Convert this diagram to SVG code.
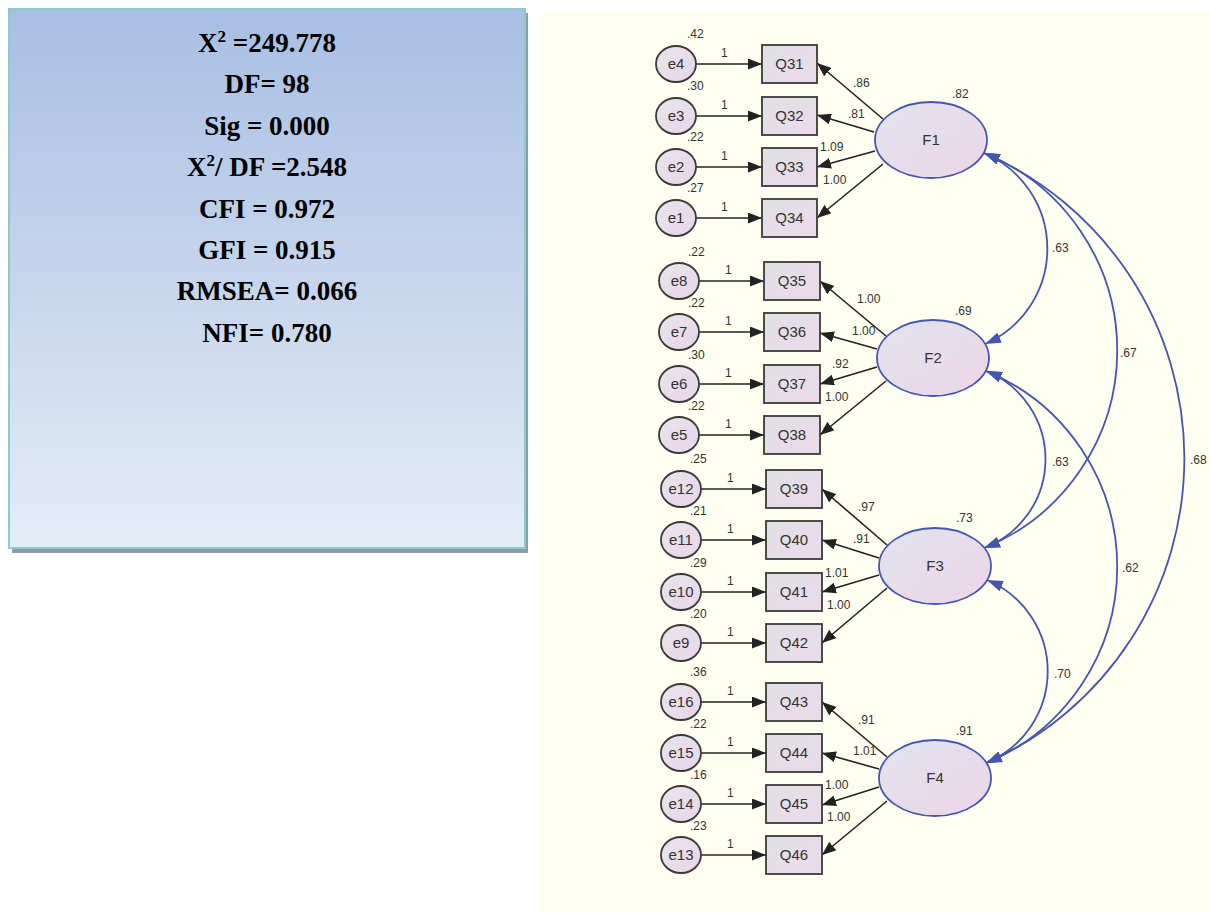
<svg xmlns="http://www.w3.org/2000/svg" width="1210" height="913" viewBox="0 0 1210 913">
<style>
.stat{font-family:"Liberation Serif","Times New Roman",serif;font-weight:bold;font-size:27px;fill:#000;text-anchor:middle}
.num{font-family:"Liberation Sans",Arial,sans-serif;font-size:12px;fill:#333}
.lbl{font-family:"Liberation Sans",Arial,sans-serif;font-size:15px;fill:#333;text-anchor:middle}
.err{fill:url(#gE);stroke:#3a3a3a;stroke-width:1.8}
.obs{fill:url(#gQ);stroke:#3a3a3a;stroke-width:1.8}
.lat{fill:url(#gF);stroke:#4456b0;stroke-width:1.8}
.blk{stroke:#222;stroke-width:1.6;fill:none;marker-end:url(#ab)}
.cov{stroke:#4456b0;stroke-width:1.8;fill:none;marker-start:url(#au);marker-end:url(#au)}
</style>
<defs>
<linearGradient id="gBox" x1="0" y1="0" x2="0" y2="1"><stop offset="0" stop-color="#a8bee2"/><stop offset="1" stop-color="#e5edf7"/></linearGradient>
<linearGradient id="gE" x1="0" y1="0" x2="1" y2="1"><stop offset="0" stop-color="#e6e6ea"/><stop offset="1" stop-color="#ead4e8"/></linearGradient>
<linearGradient id="gQ" x1="0" y1="0" x2="1" y2="1"><stop offset="0" stop-color="#dfe1e4"/><stop offset="1" stop-color="#ecdaea"/></linearGradient>
<linearGradient id="gF" x1="0" y1="0" x2="1" y2="1"><stop offset="0" stop-color="#e1e4ec"/><stop offset="1" stop-color="#ecd6e8"/></linearGradient>
<marker id="ab" markerUnits="userSpaceOnUse" markerWidth="14" markerHeight="11" refX="14" refY="5.5" orient="auto"><path d="M0,0 L14,5.5 L0,11 z" fill="#222"/></marker>
<marker id="au" markerUnits="userSpaceOnUse" markerWidth="16" markerHeight="11" refX="16" refY="5.5" orient="auto-start-reverse"><path d="M0,0 L16,5.5 L0,11 z" fill="#4456b0"/></marker>
</defs>
<rect x="0" y="0" width="1210" height="913" fill="#ffffff"/>
<rect x="539" y="12" width="671" height="900" fill="#fefef1"/>
<g id="stats">
<rect x="12" y="13" width="516" height="540" fill="#8a9ea6"/>
<rect x="9" y="9" width="516" height="539" fill="url(#gBox)" stroke="#8ccad2" stroke-width="2"/>
<text class="stat" x="267" y="52">X<tspan font-size="17" dy="-10">2</tspan><tspan dy="10"> =249.778</tspan></text>
<text class="stat" x="267" y="93.4">DF= 98</text>
<text class="stat" x="267" y="134.8">Sig = 0.000</text>
<text class="stat" x="267" y="176.2">X<tspan font-size="17" dy="-10">2</tspan><tspan dy="10">/ DF =2.548</tspan></text>
<text class="stat" x="267" y="217.6">CFI = 0.972</text>
<text class="stat" x="267" y="259">GFI = 0.915</text>
<text class="stat" x="267" y="300.4">RMSEA= 0.066</text>
<text class="stat" x="267" y="341.8">NFI= 0.780</text>
</g>
<g id="connectors">
<line class="blk" x1="696" y1="64" x2="762" y2="64"/><text class="num" x="721" y="57">1</text>
<line class="blk" x1="696" y1="116" x2="762" y2="116"/><text class="num" x="721" y="109">1</text>
<line class="blk" x1="696" y1="167" x2="762" y2="167"/><text class="num" x="721" y="160">1</text>
<line class="blk" x1="696" y1="218" x2="762" y2="218"/><text class="num" x="721" y="211">1</text>
<line class="blk" x1="699" y1="281" x2="764" y2="281"/><text class="num" x="725" y="274">1</text>
<line class="blk" x1="699" y1="332" x2="764" y2="332"/><text class="num" x="725" y="325">1</text>
<line class="blk" x1="699" y1="384" x2="764" y2="384"/><text class="num" x="725" y="377">1</text>
<line class="blk" x1="699" y1="435" x2="764" y2="435"/><text class="num" x="725" y="428">1</text>
<line class="blk" x1="701" y1="489" x2="766" y2="489"/><text class="num" x="727" y="482">1</text>
<line class="blk" x1="701" y1="540" x2="766" y2="540"/><text class="num" x="727" y="533">1</text>
<line class="blk" x1="701" y1="592" x2="766" y2="592"/><text class="num" x="727" y="585">1</text>
<line class="blk" x1="701" y1="643" x2="766" y2="643"/><text class="num" x="727" y="636">1</text>
<line class="blk" x1="701" y1="702" x2="766" y2="702"/><text class="num" x="727" y="695">1</text>
<line class="blk" x1="701" y1="753" x2="766" y2="753"/><text class="num" x="727" y="746">1</text>
<line class="blk" x1="701" y1="804" x2="766" y2="804"/><text class="num" x="727" y="797">1</text>
<line class="blk" x1="701" y1="855" x2="766" y2="855"/><text class="num" x="727" y="848">1</text>
<line class="blk" x1="883" y1="119" x2="817" y2="63"/><text class="num" x="853" y="87">.86</text>
<line class="blk" x1="874" y1="132" x2="817" y2="115"/><text class="num" x="848" y="118">.81</text>
<line class="blk" x1="875" y1="151" x2="817" y2="167"/><text class="num" x="820" y="151">1.09</text>
<line class="blk" x1="883" y1="164" x2="817" y2="218"/><text class="num" x="823" y="184">1.00</text>
<line class="blk" x1="886" y1="336" x2="820" y2="281"/><text class="num" x="857" y="303">1.00</text>
<line class="blk" x1="877" y1="349" x2="820" y2="333"/><text class="num" x="852" y="335">1.00</text>
<line class="blk" x1="877" y1="367" x2="820" y2="384"/><text class="num" x="832" y="368">.92</text>
<line class="blk" x1="886" y1="381" x2="820" y2="435"/><text class="num" x="825" y="401">1.00</text>
<line class="blk" x1="887" y1="545" x2="822" y2="489"/><text class="num" x="858" y="511">.97</text>
<line class="blk" x1="879" y1="558" x2="822" y2="540"/><text class="num" x="853" y="543">.91</text>
<line class="blk" x1="879" y1="575" x2="822" y2="592"/><text class="num" x="825" y="577">1.01</text>
<line class="blk" x1="887" y1="588" x2="822" y2="643"/><text class="num" x="827" y="609">1.00</text>
<line class="blk" x1="887" y1="757" x2="822" y2="702"/><text class="num" x="858" y="724">.91</text>
<line class="blk" x1="879" y1="769" x2="822" y2="753"/><text class="num" x="853" y="755">1.01</text>
<line class="blk" x1="879" y1="787" x2="822" y2="805"/><text class="num" x="825" y="789">1.00</text>
<line class="blk" x1="887" y1="801" x2="822" y2="855"/><text class="num" x="827" y="821">1.00</text>
<path class="cov" d="M984,153 A104,104 0 0 1 985,344"/><text class="num" x="1052" y="252">.63</text>
<path class="cov" d="M984,153 A213,213 0 0 1 984,548"/><text class="num" x="1120" y="357">.67</text>
<path class="cov" d="M984,153 A333,333 0 0 1 986,763"/><text class="num" x="1190" y="464">.68</text>
<path class="cov" d="M986,371 A95,95 0 0 1 984,548"/><text class="num" x="1052" y="466">.63</text>
<path class="cov" d="M986,371 A212,212 0 0 1 986,763"/><text class="num" x="1122" y="572">.62</text>
<path class="cov" d="M987,580 A99,99 0 0 1 986,763"/><text class="num" x="1054" y="678">.70</text>
</g>
<g id="F1"><ellipse class="lat" cx="931" cy="140" rx="56" ry="38"/><text class="lbl" x="931" y="145">F1</text><text class="num" x="952" y="98">.82</text></g>
<g id="F2"><ellipse class="lat" cx="933" cy="358" rx="56" ry="38"/><text class="lbl" x="933" y="363">F2</text><text class="num" x="955" y="315">.69</text></g>
<g id="F3"><ellipse class="lat" cx="935" cy="566" rx="56" ry="38"/><text class="lbl" x="935" y="571">F3</text><text class="num" x="956" y="522">.73</text></g>
<g id="F4"><ellipse class="lat" cx="935" cy="778" rx="56" ry="38"/><text class="lbl" x="935" y="783">F4</text><text class="num" x="956" y="735">.91</text></g>
<g id="Q31"><rect class="obs" x="762" y="45" width="55" height="38"/><text class="lbl" x="789.5" y="69">Q31</text></g>
<g id="Q32"><rect class="obs" x="762" y="97" width="55" height="38"/><text class="lbl" x="789.5" y="121">Q32</text></g>
<g id="Q33"><rect class="obs" x="762" y="148" width="55" height="38"/><text class="lbl" x="789.5" y="172">Q33</text></g>
<g id="Q34"><rect class="obs" x="762" y="199" width="55" height="38"/><text class="lbl" x="789.5" y="223">Q34</text></g>
<g id="Q35"><rect class="obs" x="764" y="262" width="56" height="38"/><text class="lbl" x="792" y="286">Q35</text></g>
<g id="Q36"><rect class="obs" x="764" y="313" width="56" height="38"/><text class="lbl" x="792" y="337">Q36</text></g>
<g id="Q37"><rect class="obs" x="764" y="365" width="56" height="38"/><text class="lbl" x="792" y="389">Q37</text></g>
<g id="Q38"><rect class="obs" x="764" y="416" width="56" height="38"/><text class="lbl" x="792" y="440">Q38</text></g>
<g id="Q39"><rect class="obs" x="766" y="470" width="56" height="38"/><text class="lbl" x="794" y="494">Q39</text></g>
<g id="Q40"><rect class="obs" x="766" y="521" width="56" height="38"/><text class="lbl" x="794" y="545">Q40</text></g>
<g id="Q41"><rect class="obs" x="766" y="573" width="56" height="38"/><text class="lbl" x="794" y="597">Q41</text></g>
<g id="Q42"><rect class="obs" x="766" y="624" width="56" height="38"/><text class="lbl" x="794" y="648">Q42</text></g>
<g id="Q43"><rect class="obs" x="766" y="683" width="56" height="38"/><text class="lbl" x="794" y="707">Q43</text></g>
<g id="Q44"><rect class="obs" x="766" y="734" width="56" height="38"/><text class="lbl" x="794" y="758">Q44</text></g>
<g id="Q45"><rect class="obs" x="766" y="785" width="56" height="38"/><text class="lbl" x="794" y="809">Q45</text></g>
<g id="Q46"><rect class="obs" x="766" y="836" width="56" height="38"/><text class="lbl" x="794" y="860">Q46</text></g>
<g id="e4"><ellipse class="err" cx="676" cy="64" rx="20" ry="18"/><text class="lbl" x="676" y="69">e4</text><text class="num" x="687" y="38">.42</text></g>
<g id="e3"><ellipse class="err" cx="676" cy="116" rx="20" ry="18"/><text class="lbl" x="676" y="121">e3</text><text class="num" x="687" y="90">.30</text></g>
<g id="e2"><ellipse class="err" cx="676" cy="167" rx="20" ry="18"/><text class="lbl" x="676" y="172">e2</text><text class="num" x="687" y="141">.22</text></g>
<g id="e1"><ellipse class="err" cx="676" cy="218" rx="20" ry="18"/><text class="lbl" x="676" y="223">e1</text><text class="num" x="687" y="192">.27</text></g>
<g id="e8"><ellipse class="err" cx="679" cy="281" rx="20" ry="18"/><text class="lbl" x="679" y="286">e8</text><text class="num" x="688" y="256">.22</text></g>
<g id="e7"><ellipse class="err" cx="679" cy="332" rx="20" ry="18"/><text class="lbl" x="679" y="337">e7</text><text class="num" x="688" y="307">.22</text></g>
<g id="e6"><ellipse class="err" cx="679" cy="384" rx="20" ry="18"/><text class="lbl" x="679" y="389">e6</text><text class="num" x="688" y="359">.30</text></g>
<g id="e5"><ellipse class="err" cx="679" cy="435" rx="20" ry="18"/><text class="lbl" x="679" y="440">e5</text><text class="num" x="688" y="410">.22</text></g>
<g id="e12"><ellipse class="err" cx="681" cy="489" rx="20" ry="18"/><text class="lbl" x="681" y="494">e12</text><text class="num" x="690" y="463">.25</text></g>
<g id="e11"><ellipse class="err" cx="681" cy="540" rx="20" ry="18"/><text class="lbl" x="681" y="545">e11</text><text class="num" x="690" y="515">.21</text></g>
<g id="e10"><ellipse class="err" cx="681" cy="592" rx="20" ry="18"/><text class="lbl" x="681" y="597">e10</text><text class="num" x="690" y="567">.29</text></g>
<g id="e9"><ellipse class="err" cx="681" cy="643" rx="20" ry="18"/><text class="lbl" x="681" y="648">e9</text><text class="num" x="690" y="618">.20</text></g>
<g id="e16"><ellipse class="err" cx="681" cy="702" rx="20" ry="18"/><text class="lbl" x="681" y="707">e16</text><text class="num" x="690" y="676">.36</text></g>
<g id="e15"><ellipse class="err" cx="681" cy="753" rx="20" ry="18"/><text class="lbl" x="681" y="758">e15</text><text class="num" x="690" y="728">.22</text></g>
<g id="e14"><ellipse class="err" cx="681" cy="804" rx="20" ry="18"/><text class="lbl" x="681" y="809">e14</text><text class="num" x="690" y="779">.16</text></g>
<g id="e13"><ellipse class="err" cx="681" cy="855" rx="20" ry="18"/><text class="lbl" x="681" y="860">e13</text><text class="num" x="690" y="830">.23</text></g>
</svg>
